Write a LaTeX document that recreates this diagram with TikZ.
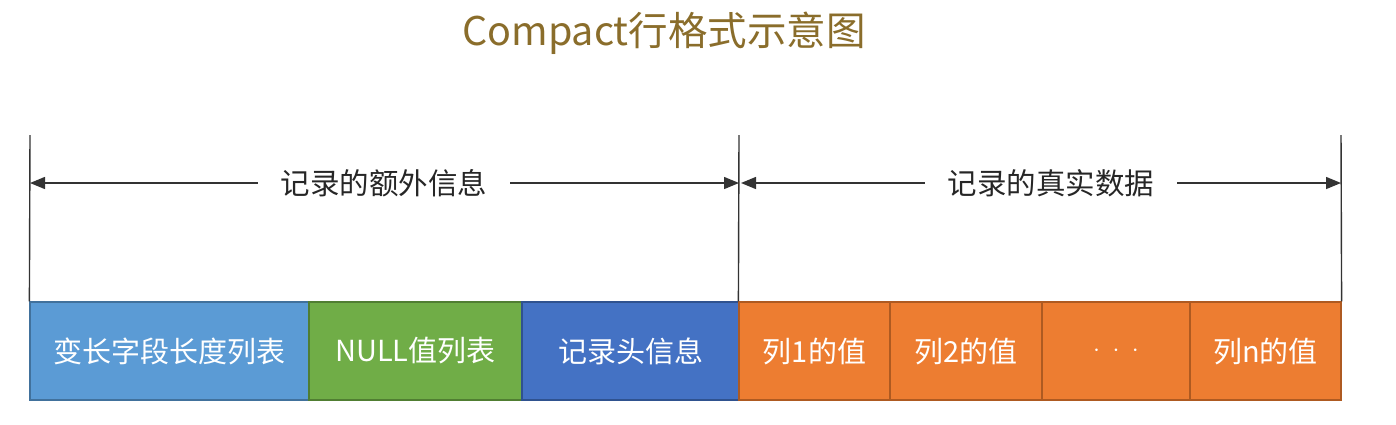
\documentclass[tikz,border=0pt]{standalone}
\usepackage{fontspec}
\setmainfont{Noto Sans CJK SC}
\usetikzlibrary{arrows.meta}
\definecolor{cblue}{HTML}{5B9BD5}
\definecolor{cblueb}{HTML}{41719C}
\definecolor{cgreen}{HTML}{70AD47}
\definecolor{cgreenb}{HTML}{507E32}
\definecolor{cdblue}{HTML}{4472C4}
\definecolor{cdblueb}{HTML}{2F528F}
\definecolor{corange}{HTML}{ED7D31}
\definecolor{coranb}{HTML}{AE5A21}
\definecolor{ctitle}{HTML}{8A6D2B}
\definecolor{cline}{HTML}{333333}
\begin{document}
\begin{tikzpicture}[x=1pt,y=-1pt,
  cell/.style={draw, line width=1.2pt, minimum height=98pt, inner sep=0pt, text=white, font=\fontsize{29}{33}\selectfont},
  lbl/.style={font=\fontsize{29.5}{34}\selectfont, text=black!85, fill=white, inner xsep=23pt},
  dim/.style={line width=1.4pt, color=cline, -{Triangle[length=15pt,width=12pt]}},
  vline/.style={line width=1.4pt, color=cline}]
\useasboundingbox (0,0) rectangle (1396,424);
\node[font=\fontsize{39.5}{46}\selectfont, text=ctitle] (title) at (664,33) {Compact行格式示意图};
% cells
\node[cell, fill=cblue, draw=cblueb, minimum width=279pt] (c1) at (169.5,351) {变长字段长度列表};
\node[cell, fill=cgreen, draw=cgreenb, minimum width=213pt] (c2) at (415.5,351) {NULL值列表};
\node[cell, fill=cdblue, draw=cdblueb, minimum width=217pt] (c3) at (630.5,351) {记录头信息};
\node[cell, fill=corange, draw=coranb, minimum width=151pt] (c4) at (814.5,351) {列1的值};
\node[cell, fill=corange, draw=coranb, minimum width=152pt] (c5) at (966,351) {列2的值};
\node[cell, fill=corange, draw=coranb, minimum width=148pt] (c6) at (1116,351) {$\cdot\;\cdot\;\cdot$};
\node[cell, fill=corange, draw=coranb, minimum width=151pt] (c7) at (1265.5,351) {列n的值};
% vertical lines
\coordinate (t1) at (30,135);
\coordinate (t2) at (739,135);
\coordinate (t3) at (1341,135);
\draw[vline] (t1) -- (c1.north west);
\draw[vline] (t2) -- (c4.north west);
\draw[vline] (t3) -- (c7.north east);
% dimension labels
\node[lbl] (l1) at (384,183) {记录的额外信息};
\node[lbl] (l2) at (1051,183) {记录的真实数据};
\coordinate (a1) at (30,183);
\coordinate (a2) at (739,183);
\coordinate (a3) at (741,183);
\coordinate (a4) at (1341,183);
\draw[dim] (l1.west) -- (a1);
\draw[dim] (l1.east) -- (a2);
\draw[dim] (l2.west) -- (a3);
\draw[dim] (l2.east) -- (a4);
\end{tikzpicture}
\end{document}
